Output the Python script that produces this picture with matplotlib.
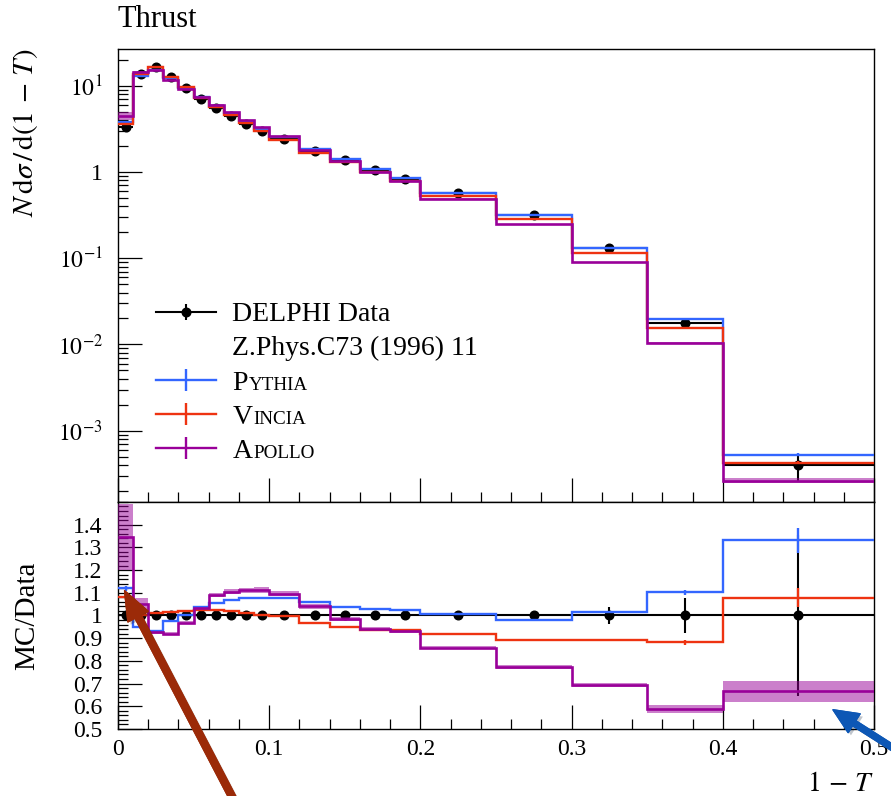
import numpy as np
import matplotlib
matplotlib.use("Agg")
import matplotlib.pyplot as plt
import matplotlib.patheffects as pe
from matplotlib.lines import Line2D
from matplotlib.patches import FancyArrowPatch
from matplotlib.ticker import FixedLocator, FuncFormatter, LogLocator, MultipleLocator, NullFormatter

plt.rcParams['font.family'] = ['Liberation Serif', 'DejaVu Serif']
plt.rcParams['mathtext.fontset'] = 'stix'

# bin edges in 1-T
edges = [0.0, 0.01, 0.02, 0.03, 0.04, 0.05, 0.06, 0.07, 0.08, 0.09, 0.10,
         0.12, 0.14, 0.16, 0.18, 0.20, 0.25, 0.30, 0.35, 0.40, 0.50]

# DELPHI data, Z.Phys.C73 (1996) 11
data = [3.35, 13.7, 16.4, 12.5, 9.43, 7.09, 5.52, 4.50, 3.61, 2.96,
        2.38, 1.73, 1.36, 1.06, 0.836, 0.570, 0.320, 0.130, 0.0177, 3.95e-4]
data_err = [0.07, 0.14, 0.16, 0.12, 0.09, 0.07, 0.055, 0.045, 0.036, 0.03,
            0.024, 0.017, 0.014, 0.011, 0.009, 0.007, 0.005, 0.0051, 0.0014, 1.4e-4]

pythia = [3.75, 13.0, 15.3, 12.2, 9.47, 7.35, 5.83, 4.81, 3.88, 3.19,
          2.56, 1.83, 1.41, 1.09, 0.857, 0.573, 0.314, 0.132, 0.0195, 5.26e-4]
pythia_err = [0.04, 0.04, 0.05, 0.04, 0.03, 0.02, 0.017, 0.014, 0.012, 0.01,
              0.008, 0.005, 0.004, 0.003, 0.0026, 0.0017, 0.001, 0.0005, 0.0002, 2.2e-5]

vincia = [3.62, 13.7, 16.6, 12.7, 9.62, 7.27, 5.66, 4.59, 3.65, 2.97,
          2.37, 1.67, 1.29, 0.994, 0.783, 0.524, 0.285, 0.116, 0.0156, 4.26e-4]
vincia_err = [0.04, 0.04, 0.05, 0.04, 0.03, 0.02, 0.017, 0.014, 0.011, 0.009,
              0.007, 0.005, 0.004, 0.003, 0.0024, 0.0016, 0.001, 0.0004, 0.00018, 1.6e-5]

apollo = [4.51, 14.4, 15.2, 11.5, 9.13, 7.33, 6.02, 4.97, 4.01, 3.29,
          2.61, 1.80, 1.34, 0.998, 0.777, 0.489, 0.247, 0.0902, 0.0104, 2.63e-4]
apollo_err = [0.49, 0.34, 0.13, 0.10, 0.075, 0.071, 0.055, 0.054, 0.043, 0.036,
              0.029, 0.017, 0.011, 0.0085, 0.0067, 0.0034, 0.0026, 0.0013, 0.00032, 1.8e-5]

c_pythia = '#3366FF'
c_vincia = '#EE3311'
c_apollo = '#990099'

edges = np.array(edges)
centers = 0.5 * (edges[1:] + edges[:-1])
hw = 0.5 * np.diff(edges)
data = np.array(data)
data_err = np.array(data_err)
pythia, vincia, apollo = np.array(pythia), np.array(vincia), np.array(apollo)
pythia_err, vincia_err, apollo_err = np.array(pythia_err), np.array(vincia_err), np.array(apollo_err)

fig = plt.figure(figsize=(8.91, 7.96), dpi=100)
ax = fig.add_axes([0.1324, 0.3694, 0.8485, 0.5691])
axr = fig.add_axes([0.1324, 0.0842, 0.8485, 0.2852], sharex=ax)

lw = 1.7

# main panel
ax.errorbar(centers, data, yerr=data_err, xerr=hw, fmt='o', color='k', ms=6.2,
            lw=1.5, capsize=0, zorder=2)
ax.stairs(apollo + apollo_err, edges, baseline=apollo - apollo_err, fill=True,
          color=c_apollo, alpha=0.5, lw=0, zorder=3)
for vals, errs, col in [(pythia, pythia_err, c_pythia), (vincia, vincia_err, c_vincia)]:
    ax.stairs(vals, edges, baseline=None, color=col, lw=lw, zorder=4)
    ax.errorbar(centers, vals, yerr=errs, fmt='none', ecolor=col, elinewidth=lw, zorder=4)
ax.stairs(apollo, edges, baseline=None, color=c_apollo, lw=lw + 0.2, zorder=4)

ax.set_yscale('log')
ax.set_ylim(1.49e-4, 26.7)
ax.set_xlim(0, 0.5)

def log_label(v, pos):
    e = int(round(np.log10(v)))
    return '1' if e == 0 else r'$10^{%d}$' % e

ax.yaxis.set_major_locator(FixedLocator([1e-3, 1e-2, 1e-1, 1, 10]))
ax.yaxis.set_major_formatter(FuncFormatter(log_label))
ax.yaxis.set_minor_locator(LogLocator(base=10, subs=np.arange(2, 10), numticks=20))
ax.yaxis.set_minor_formatter(NullFormatter())

# ratio panel
axr.errorbar(centers, data / data, yerr=data_err / data, xerr=hw, fmt='o', color='k',
             ms=6.2, lw=1.5, capsize=0, zorder=2)
axr.stairs((apollo + apollo_err) / data, edges, baseline=(apollo - apollo_err) / data,
           fill=True, color=c_apollo, alpha=0.5, lw=0, zorder=3)
for vals, errs, col in [(pythia, pythia_err, c_pythia), (vincia, vincia_err, c_vincia)]:
    axr.stairs(vals / data, edges, baseline=None, color=col, lw=lw, zorder=4)
    axr.errorbar(centers, vals / data, yerr=errs / data, fmt='none', ecolor=col,
                 elinewidth=lw, zorder=4)
axr.stairs(apollo / data, edges, baseline=None, color=c_apollo, lw=lw + 0.2, zorder=4)

axr.set_ylim(0.5, 1.5)
axr.yaxis.set_major_locator(FixedLocator(np.round(np.arange(0.5, 1.45, 0.1), 1)))
axr.yaxis.set_minor_locator(MultipleLocator(0.02))
axr.yaxis.set_major_formatter(FuncFormatter(lambda v, p: f'{v:g}'))
axr.xaxis.set_major_locator(MultipleLocator(0.1))
axr.xaxis.set_minor_locator(MultipleLocator(0.02))
axr.xaxis.set_major_formatter(FuncFormatter(lambda v, p: f'{v:g}'))

for a in (ax, axr):
    a.tick_params(which='both', direction='in', top=False, right=False, width=0.9)
    a.tick_params(which='major', length=17, labelsize=17)
    a.tick_params(which='minor', length=7.5)
    a.tick_params(axis='y', pad=11)
    a.tick_params(axis='x', pad=7)
    for s in a.spines.values():
        s.set_linewidth(1.0)
ax.tick_params(labelbottom=False)

ax.set_title('Thrust', loc='left', fontsize=22, pad=16)
ax.set_ylabel(r'$N\,\mathrm{d}\sigma\,/\,\mathrm{d}(1\,-\,T)$', fontsize=21, loc='top')
ax.yaxis.set_label_coords(-0.103, 1.0)
axr.set_ylabel('MC/Data', fontsize=21)
axr.yaxis.set_label_coords(-0.103, 0.5)
axr.set_xlabel(r'$1\,-\,T$', fontsize=20, loc='right')
axr.xaxis.set_label_coords(1.0, -0.19)

# legend
def mc_handle(col):
    return (Line2D([], [], color=col, lw=lw),
            Line2D([], [], color=col, marker='|', ms=16, mew=lw, ls='none'))

handles = [(Line2D([], [], color='k', lw=1.5),
            Line2D([], [], color='k', marker='o', ms=6.2, ls='none'),
            Line2D([], [], color='k', marker='|', ms=11.5, mew=1.5, ls='none')),
           Line2D([], [], ls='none'),
           mc_handle(c_pythia), mc_handle(c_vincia), mc_handle(c_apollo)]
labels = ['DELPHI Data', 'Z.Phys.C73 (1996) 11', 'P', 'V', 'A']
leg = ax.legend(handles, labels, loc='upper left', bbox_to_anchor=(0.05, 0.4415),
                frameon=False, fontsize=20, borderpad=0, borderaxespad=0,
                handlelength=2.16, handletextpad=0.6, labelspacing=0.31)

# small caps for the generator names
for txt, rest in zip(leg.get_texts()[2:], ['YTHIA', 'INCIA', 'POLLO']):
    ax.annotate(rest, xy=(1, 0), xycoords=txt, xytext=(0.6, 1.35),
                textcoords='offset points', fontsize=13.8, ha='left', va='bottom',
                zorder=10)

# overlay arrows
W, H = 891.0, 796.0
shadow = [pe.withSimplePatchShadow(offset=(2, -2), alpha=0.25), pe.Normal()]
red_arrow = FancyArrowPatch((239 / W, 1 - 810 / H), (123.3 / W, 1 - 588.3 / H),
                            transform=fig.transFigure, color='#9B2A08',
                            arrowstyle='simple,head_length=21,head_width=16.5,tail_width=5',
                            path_effects=shadow)
blue_arrow = FancyArrowPatch((905 / W, 1 - 755.6 / H), (830.7 / W, 1 - 708.3 / H),
                             transform=fig.transFigure, color='#0D57B5',
                             arrowstyle='simple,head_length=18,head_width=16,tail_width=4.3',
                             path_effects=shadow)
fig.add_artist(red_arrow)
fig.add_artist(blue_arrow)

fig.savefig('out.png', dpi=100)
